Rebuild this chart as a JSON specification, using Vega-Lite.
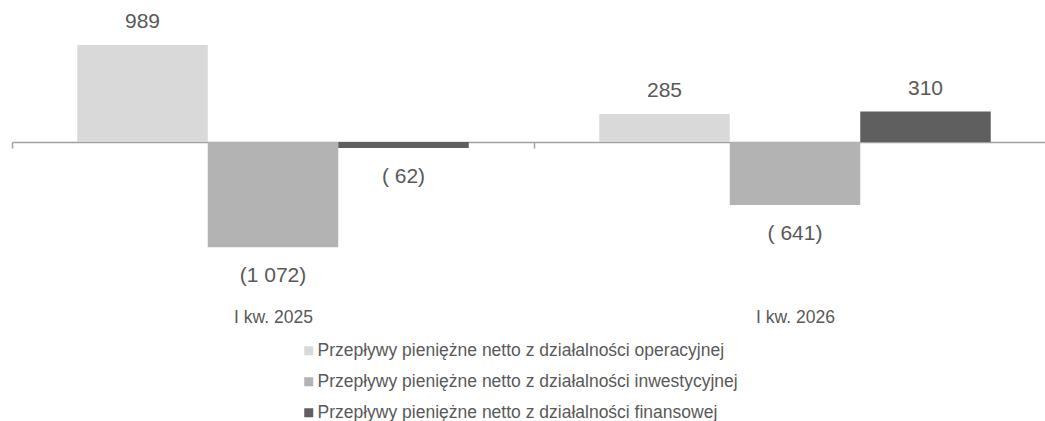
{
  "$schema": "https://vega.github.io/schema/vega-lite/v6.json",
  "autosize": {"type": "none"},
  "padding": {"left": 12, "top": 0, "right": 0, "bottom": 121},
  "width": 1033,
  "height": 300,
  "background": "white",
  "config": {
    "view": {"stroke": null},
    "font": "Liberation Sans",
    "text": {"font": "Liberation Sans", "fontSize": 21, "color": "#595959"}
  },
  "data": {
    "values": [
      {"okres": "I kw. 2025", "seria": "Przepływy pieniężne netto z działalności operacyjnej", "wartosc": 989, "etykieta": "989"},
      {"okres": "I kw. 2025", "seria": "Przepływy pieniężne netto z działalności inwestycyjnej", "wartosc": -1072, "etykieta": "(1 072)"},
      {"okres": "I kw. 2025", "seria": "Przepływy pieniężne netto z działalności finansowej", "wartosc": -62, "etykieta": "( 62)"},
      {"okres": "I kw. 2026", "seria": "Przepływy pieniężne netto z działalności operacyjnej", "wartosc": 285, "etykieta": "285"},
      {"okres": "I kw. 2026", "seria": "Przepływy pieniężne netto z działalności inwestycyjnej", "wartosc": -641, "etykieta": "( 641)"},
      {"okres": "I kw. 2026", "seria": "Przepływy pieniężne netto z działalności finansowej", "wartosc": 310, "etykieta": "310"}
    ]
  },
  "encoding": {
    "x": {
      "field": "okres", "type": "nominal",
      "scale": {"range": [0, 1044], "paddingInner": 0, "paddingOuter": 0},
      "axis": {
        "title": null, "orient": "bottom", "offset": -158,
        "domain": true, "domainColor": "#a0a0a0", "domainWidth": 1.5,
        "ticks": true, "tickBand": "extent", "tickColor": "#a0a0a0", "tickWidth": 1.5, "tickSize": 6,
        "labelAngle": 0, "labelFont": "Liberation Sans", "labelFontSize": 17.5,
        "labelColor": "#595959", "labelPadding": 160
      }
    },
    "xOffset": {
      "field": "seria", "type": "nominal",
      "sort": ["Przepływy pieniężne netto z działalności operacyjnej", "Przepływy pieniężne netto z działalności inwestycyjnej", "Przepływy pieniężne netto z działalności finansowej"],
      "scale": {"paddingInner": 0, "paddingOuter": 0.5}
    },
    "y": {
      "field": "wartosc", "type": "quantitative",
      "scale": {"domain": [-1610.6, 1447.5], "nice": false, "zero": false},
      "axis": null
    }
  },
  "layer": [
    {
      "mark": {"type": "bar"},
      "encoding": {
        "color": {
          "field": "seria", "type": "nominal",
          "sort": ["Przepływy pieniężne netto z działalności operacyjnej", "Przepływy pieniężne netto z działalności inwestycyjnej", "Przepływy pieniężne netto z działalności finansowej"],
          "scale": {
            "domain": ["Przepływy pieniężne netto z działalności operacyjnej", "Przepływy pieniężne netto z działalności inwestycyjnej", "Przepływy pieniężne netto z działalności finansowej"],
            "range": ["#d9d9d9", "#b3b3b3", "#5f5f5f"]
          },
          "legend": {
            "title": null, "orient": "none", "legendX": 288, "legendY": 342,
            "direction": "vertical", "padding": 0,
            "symbolType": "square", "symbolSize": 81, "symbolStrokeWidth": 0,
            "labelFont": "Liberation Sans", "labelFontSize": 17.5, "labelColor": "#595959",
            "labelOffset": 0, "rowPadding": 12, "labelLimit": 600
          }
        },
        "y2": {"datum": 0}
      }
    },
    {
      "transform": [{"filter": "datum.wartosc >= 0"}],
      "mark": {"type": "text", "baseline": "alphabetic", "dy": -17},
      "encoding": {"text": {"field": "etykieta"}}
    },
    {
      "transform": [{"filter": "datum.wartosc < 0"}],
      "mark": {"type": "text", "baseline": "alphabetic", "dy": 35},
      "encoding": {"text": {"field": "etykieta"}}
    }
  ]
}
